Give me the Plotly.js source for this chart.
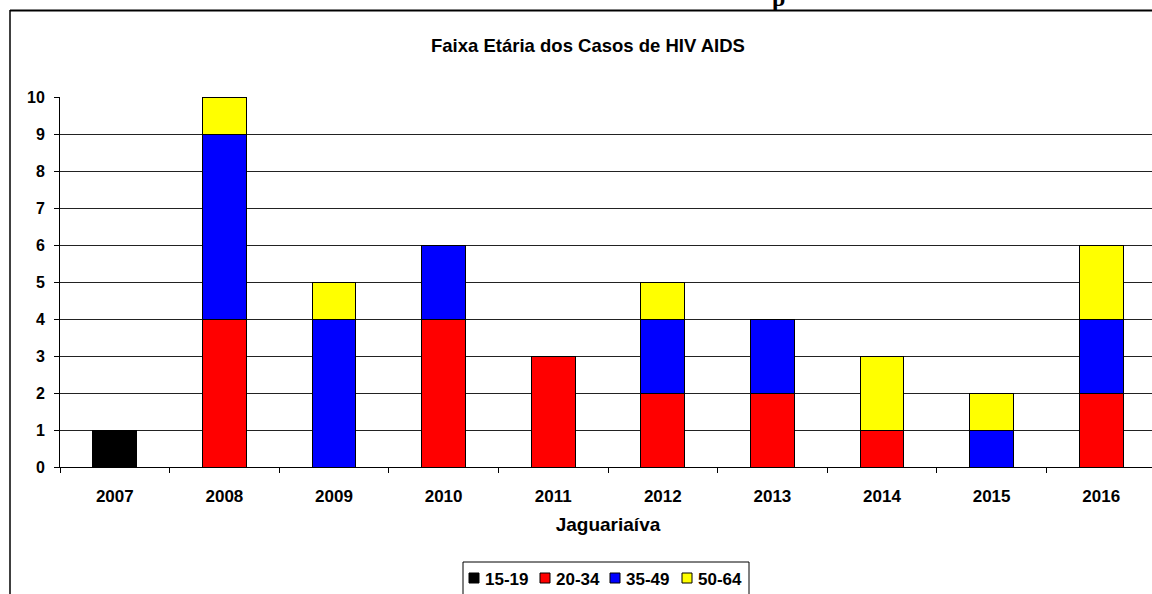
<!DOCTYPE html>
<html>
<head>
<meta charset="utf-8">
<script src="https://cdn.plot.ly/plotly-3.0.1.min.js"></script>
<style>
html,body{margin:0;padding:0;overflow:hidden;background:#fff;}
#chart{width:1160px;height:594px;}
</style>
</head>
<body>
<div id="chart"></div>
<script>
const years = ['2007','2008','2009','2010','2011','2012','2013','2014','2015','2016'];
const age15_19 = [1,0,0,0,0,0,0,0,0,0];
const age20_34 = [0,4,0,4,3,2,2,1,0,2];
const age35_49 = [0,5,4,2,0,2,2,0,1,2];
const age50_64 = [0,1,1,0,0,1,0,2,1,2];
const seriesNames = ['15-19','20-34','35-49','50-64'];
const seriesColors = ['#000000','#ff0000','#0000ff','#ffff00'];
const seriesValues = [age15_19, age20_34, age35_49, age50_64];

const FONT = 'Liberation Sans, Arial, sans-serif';

const traces = seriesValues.map((vals, i) => ({
  type: 'bar',
  name: seriesNames[i],
  x: years,
  y: vals.map(v => v === 0 ? null : v),
  marker: {color: seriesColors[i], line: {color: '#000', width: 1}},
  width: 0.4,
  showlegend: false
}));

const W = 1160, H = 594;
const mL = 60, mR = 4, mT = 97, mB = 127;
const plotW = W - mL - mR, plotH = H - mT - mB;
const px2x = p => (p - mL) / plotW;
const py2y = p => (H - mB - p) / plotH;

// custom compact legend (box, keys, labels) built from the series arrays
const legendKeysX = [469, 540, 610, 682];
const legendShapes = [
  {type: 'rect', xref: 'paper', yref: 'paper',
   x0: px2x(463), x1: px2x(749), y0: py2y(562), y1: py2y(600),
   line: {color: '#000', width: 1}, fillcolor: 'rgba(0,0,0,0)'}
];
const legendAnnots = [];
seriesNames.forEach((n, i) => {
  legendShapes.push({type: 'rect', xref: 'paper', yref: 'paper',
    x0: px2x(legendKeysX[i]), x1: px2x(legendKeysX[i] + 10),
    y0: py2y(573), y1: py2y(583),
    line: {color: '#000', width: 1}, fillcolor: seriesColors[i]});
  legendAnnots.push({text: '<b>' + n + '</b>', xref: 'paper', yref: 'paper',
    x: px2x(legendKeysX[i] + 14), y: py2y(579), xanchor: 'left', yanchor: 'middle',
    showarrow: false, font: {family: FONT, size: 17, color: '#000'}});
});

const layout = {
  width: W, height: H,
  margin: {l: mL, r: mR, t: mT, b: mB, pad: 0, autoexpand: false},
  paper_bgcolor: '#fff', plot_bgcolor: '#fff',
  barmode: 'stack',
  font: {family: FONT, color: '#000', size: 13},
  title: {
    text: '<b>Faixa Etária dos Casos de HIV AIDS</b>',
    font: {family: FONT, size: 18.5, color: '#000'},
    xref: 'container', x: 588 / W, xanchor: 'center',
    yref: 'container', y: 1 - 46 / H, yanchor: 'middle'
  },
  xaxis: {
    type: 'category',
    tickson: 'boundaries',
    ticks: 'outside', ticklen: 5, tickcolor: '#000', tickwidth: 1,
    showline: true, linecolor: '#000', linewidth: 1,
    showgrid: false,
    tickfont: {family: FONT, size: 17, color: '#000', weight: 'bold'},
    ticklabelstandoff: 14,
    automargin: false,
    title: {text: '<b>Jaguariaíva</b>', font: {family: FONT, size: 19, color: '#000'}, standoff: 12}
  },
  yaxis: {
    range: [0, 10],
    tickvals: [0,1,2,3,4,5,6,7,8,9,10],
    ticks: 'outside', ticklen: 5, tickcolor: '#000', tickwidth: 1,
    showline: true, linecolor: '#000', linewidth: 1,
    showgrid: true, gridcolor: '#222', gridwidth: 1,
    zeroline: false,
    automargin: false,
    tickfont: {family: FONT, size: 16, color: '#000', weight: 'bold'},
    ticklabelstandoff: 6,
    fixedrange: true
  },
  showlegend: false,
  shapes: [
    {type: 'line', xref: 'paper', yref: 'paper',
     x0: px2x(10), x1: px2x(1200), y0: py2y(10.5), y1: py2y(10.5),
     line: {color: '#000', width: 2}},
    {type: 'line', xref: 'paper', yref: 'paper',
     x0: px2x(10), x1: px2x(10), y0: py2y(10), y1: py2y(640),
     line: {color: '#000', width: 1.5}}
  ].concat(legendShapes),
  annotations: [
    {text: '<b>p</b>', xref: 'paper', yref: 'paper',
     x: px2x(778), y: py2y(-2), xanchor: 'center', yanchor: 'middle',
     showarrow: false, font: {family: 'Liberation Serif, serif', size: 24, color: '#000'}}
  ].concat(legendAnnots)
};

Plotly.newPlot('chart', traces, layout, {displayModeBar: false, staticPlot: true});
</script>
</body>
</html>
